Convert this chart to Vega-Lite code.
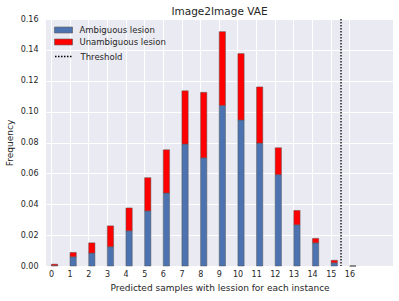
{
  "$schema": "https://vega.github.io/schema/vega-lite/v6.json",
  "width": 347,
  "height": 247,
  "autosize": "none",
  "padding": {"left": 46, "top": 19, "right": 6, "bottom": 35},
  "background": "white",
  "config": {
    "font": "DejaVu Sans",
    "view": {"fill": "#EAEAF2", "stroke": null},
    "axis": {"gridColor": "white", "gridWidth": 1, "gridOpacity": 1, "domain": false, "ticks": false, "labelColor": "#262626", "titleColor": "#262626", "labelFontSize": 8, "titleFontSize": 9, "titleFontWeight": "normal", "labelFont": "DejaVu Sans", "titleFont": "DejaVu Sans", "labelOverlap": false},
    "legend": {"labelFontSize": 8.5, "labelColor": "#262626", "labelFont": "DejaVu Sans", "padding": 0, "rowPadding": 2, "symbolSize": 81, "labelOffset": 11, "symbolOpacity": 1},
    "title": {"font": "DejaVu Sans", "fontSize": 10.5, "fontWeight": "normal", "color": "#262626", "offset": -2}
  },
  "title": "Image2Image VAE",
  "data": {"values": [
    {"n": 0, "kind": "Ambiguous lesion", "freq": 0.0003},
    {"n": 0, "kind": "Unambiguous lesion", "freq": 0.0009},
    {"n": 1, "kind": "Ambiguous lesion", "freq": 0.006},
    {"n": 1, "kind": "Unambiguous lesion", "freq": 0.0028},
    {"n": 2, "kind": "Ambiguous lesion", "freq": 0.0084},
    {"n": 2, "kind": "Unambiguous lesion", "freq": 0.0066},
    {"n": 3, "kind": "Ambiguous lesion", "freq": 0.0125},
    {"n": 3, "kind": "Unambiguous lesion", "freq": 0.0135},
    {"n": 4, "kind": "Ambiguous lesion", "freq": 0.0228},
    {"n": 4, "kind": "Unambiguous lesion", "freq": 0.0148},
    {"n": 5, "kind": "Ambiguous lesion", "freq": 0.0357},
    {"n": 5, "kind": "Unambiguous lesion", "freq": 0.0215},
    {"n": 6, "kind": "Ambiguous lesion", "freq": 0.0473},
    {"n": 6, "kind": "Unambiguous lesion", "freq": 0.028},
    {"n": 7, "kind": "Ambiguous lesion", "freq": 0.079},
    {"n": 7, "kind": "Unambiguous lesion", "freq": 0.0345},
    {"n": 8, "kind": "Ambiguous lesion", "freq": 0.0701},
    {"n": 8, "kind": "Unambiguous lesion", "freq": 0.0424},
    {"n": 9, "kind": "Ambiguous lesion", "freq": 0.104},
    {"n": 9, "kind": "Unambiguous lesion", "freq": 0.0478},
    {"n": 10, "kind": "Ambiguous lesion", "freq": 0.0946},
    {"n": 10, "kind": "Unambiguous lesion", "freq": 0.043},
    {"n": 11, "kind": "Ambiguous lesion", "freq": 0.0796},
    {"n": 11, "kind": "Unambiguous lesion", "freq": 0.0364},
    {"n": 12, "kind": "Ambiguous lesion", "freq": 0.0592},
    {"n": 12, "kind": "Unambiguous lesion", "freq": 0.0174},
    {"n": 13, "kind": "Ambiguous lesion", "freq": 0.0267},
    {"n": 13, "kind": "Unambiguous lesion", "freq": 0.0093},
    {"n": 14, "kind": "Ambiguous lesion", "freq": 0.015},
    {"n": 14, "kind": "Unambiguous lesion", "freq": 0.0029},
    {"n": 15, "kind": "Ambiguous lesion", "freq": 0.0021},
    {"n": 15, "kind": "Unambiguous lesion", "freq": 0.0016},
    {"n": 16, "kind": "Ambiguous lesion", "freq": 0},
    {"n": 16, "kind": "Unambiguous lesion", "freq": 0}
  ]},
  "layer": [
    {
      "mark": {"type": "bar", "width": 6.3, "xOffset": 3.5, "stroke": "#555555", "strokeOpacity": 0.6, "strokeWidth": 0.8},
      "encoding": {
        "x": {"field": "n", "type": "quantitative", "scale": {"domain": [0, 18.07], "nice": false, "zero": false},
              "axis": {"values": [0,1,2,3,4,5,6,7,8,9,10,11,12,13,14,15,16], "format": "d", "labelPadding": 4, "titlePadding": 5, "labelOverlap": false, "labelBound": false, "labelFlush": false},
              "title": "Predicted samples with lession for each instance"},
        "y": {"field": "freq", "type": "quantitative", "stack": "zero", "scale": {"domain": [0, 0.16], "nice": false},
              "axis": {"values": [0,0.02,0.04,0.06,0.08,0.1,0.12,0.14,0.16], "format": ".2f", "labelPadding": 8, "titlePadding": 6},
              "title": "Frequency"},
        "color": {"field": "kind", "type": "nominal",
                  "scale": {"domain": ["Ambiguous lesion", "Unambiguous lesion"], "range": ["#4C72B0", "#FF0000"]},
                  "legend": {"title": null, "orient": "none", "legendX": 12.5, "legendY": 6,
                             "symbolType": "M-2,-0.66H2V0.66H-2Z", "symbolStrokeColor": "#555555", "symbolStrokeWidth": 0.6}},
        "order": {"field": "kind", "sort": "ascending"}
      }
    },
    {
      "data": {"values": [{"threshold": 15.55, "label": "Threshold"}]},
      "mark": {"type": "rule", "color": "black", "strokeWidth": 1.3},
      "encoding": {
        "x": {"field": "threshold", "type": "quantitative", "scale": {"domain": [0, 18.07], "nice": false, "zero": false},
              "axis": {"values": [0,1,2,3,4,5,6,7,8,9,10,11,12,13,14,15,16], "format": "d", "labelPadding": 4, "titlePadding": 5, "labelOverlap": false, "labelBound": false, "labelFlush": false},
              "title": "Predicted samples with lession for each instance"},
        "strokeDash": {"field": "label", "type": "nominal",
                       "scale": {"domain": ["Threshold"], "range": [[1.5, 1.5]]},
                       "legend": {"title": null, "orient": "none", "legendX": 12.5, "legendY": 32,
                                  "symbolType": "M-2,0H2", "symbolStrokeColor": "black", "symbolStrokeWidth": 1.3}}
      }
    }
  ]
}
